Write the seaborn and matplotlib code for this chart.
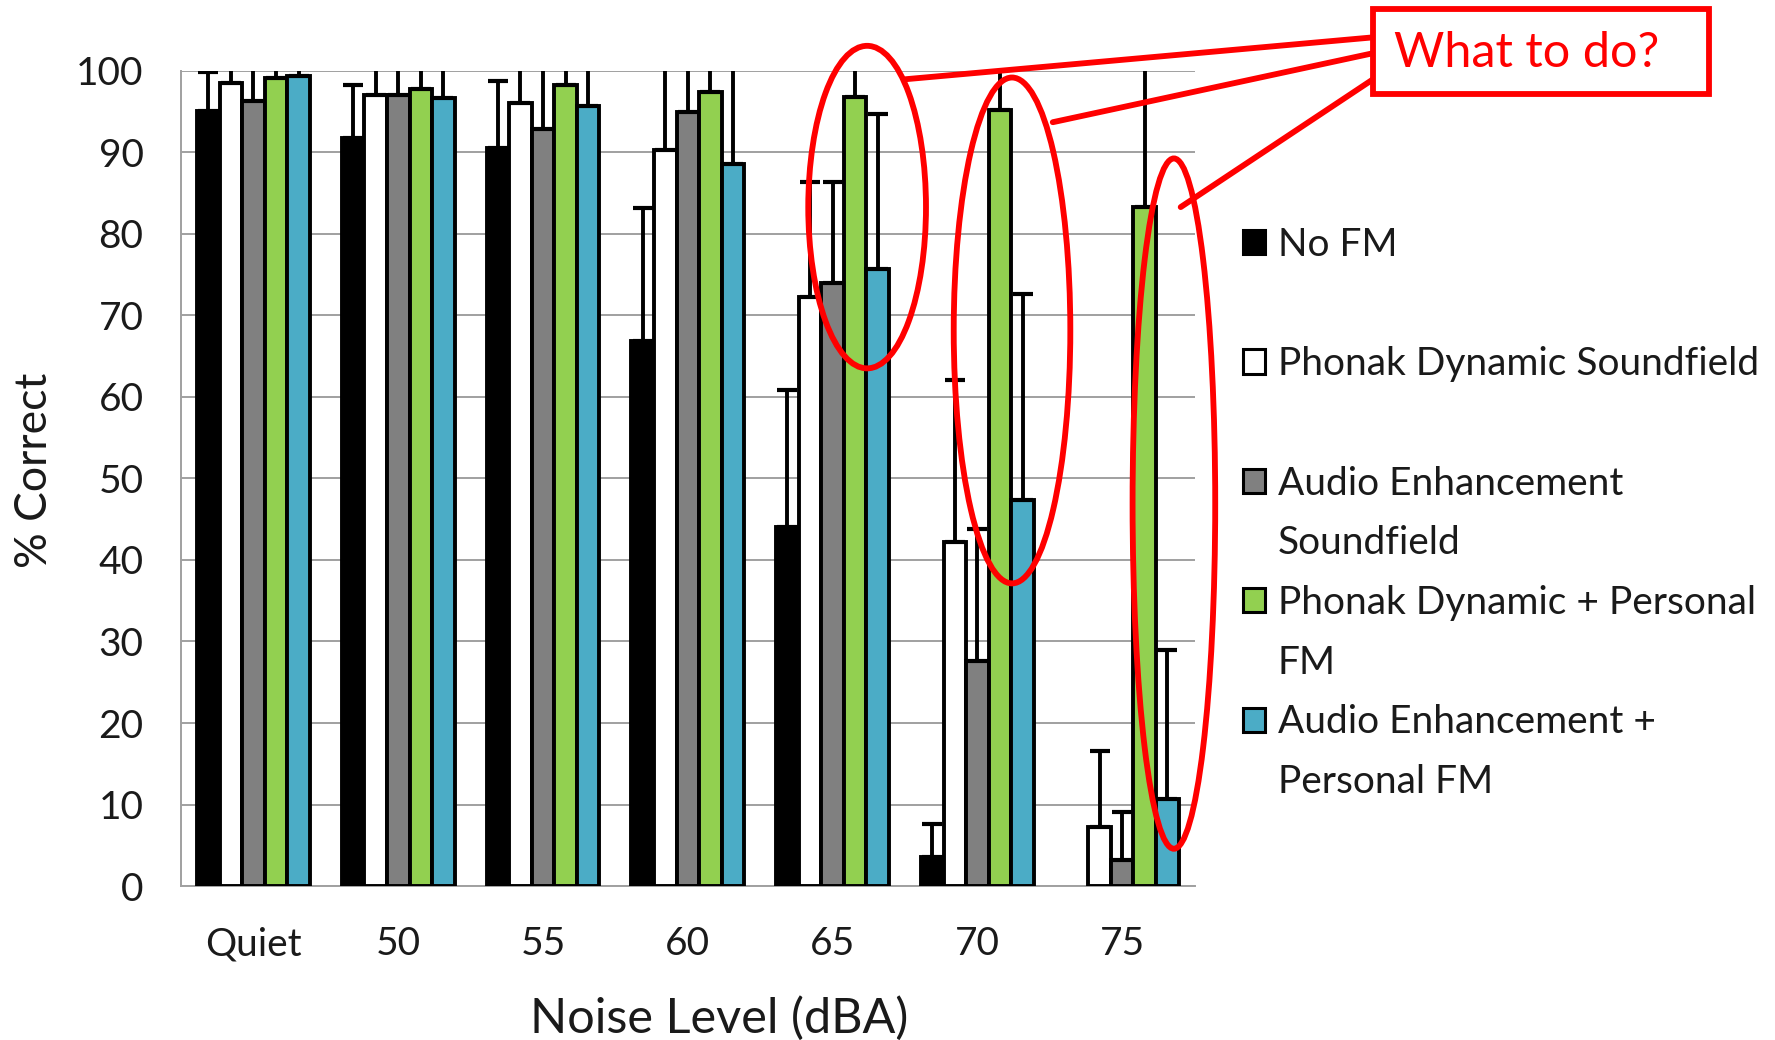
import numpy as np
import pandas as pd
import matplotlib
matplotlib.use('Agg')
import matplotlib.pyplot as plt
import seaborn as sns
from matplotlib.patches import Patch, Ellipse, Rectangle
from matplotlib.lines import Line2D

# data
levels = ['Quiet', '50', '55', '60', '65', '70', '75']
conditions = ['No FM', 'Phonak Dynamic Soundfield', 'Audio Enhancement Soundfield',
              'Phonak Dynamic + Personal FM', 'Audio Enhancement + Personal FM']
colors = ['#000000', '#ffffff', '#808080', '#92d050', '#4bacc6']

no_fm = [95.0, 91.8, 90.5, 66.9, 44.0, 3.6, 0.0]
phonak_sf = [98.5, 97.0, 96.1, 90.3, 72.3, 42.2, 7.3]
audio_sf = [96.3, 97.0, 92.9, 94.9, 74.0, 27.6, 3.2]
phonak_fm = [99.1, 97.7, 98.2, 97.4, 96.8, 95.2, 83.3]
audio_fm = [99.3, 96.6, 95.7, 88.5, 75.7, 47.3, 10.7]

# top of the +SD error bars (above 100 runs off the chart)
no_fm_top = [99.9, 98.2, 98.7, 83.2, 60.8, 7.6, np.nan]
phonak_sf_top = [102.0, 103.0, 104.0, 109.0, 86.3, 62.1, 16.6]
audio_sf_top = [102.0, 103.0, 106.0, 104.0, 86.4, 43.8, 9.1]
phonak_fm_top = [101.5, 102.0, 102.0, 103.0, 102.0, 103.0, 106.0]
audio_fm_top = [101.5, 104.0, 104.0, 110.0, 94.7, 72.6, 29.0]

legend_lines = ['No FM', ' ', 'Phonak Dynamic Soundfield', ' ', 'Audio Enhancement', 'Soundfield',
                'Phonak Dynamic + Personal', 'FM', 'Audio Enhancement +', 'Personal FM']
legend_color_idx = [0, None, 1, None, 2, None, 3, None, 4, None]

series = [no_fm, phonak_sf, audio_sf, phonak_fm, audio_fm]
tops = [no_fm_top, phonak_sf_top, audio_sf_top, phonak_fm_top, audio_fm_top]

df = pd.DataFrame({
    'level': np.tile(levels, len(conditions)),
    'condition': np.repeat(conditions, len(levels)),
    'pct': np.concatenate(series),
})

sns.set_theme(style='white')
plt.rcParams['font.family'] = ['Lato', 'DejaVu Sans']

fig = plt.figure(figsize=(17.75, 10.4), dpi=100)
ax = fig.add_axes([0.102, 0.148, 0.571, 0.784])

sns.barplot(data=df, x='level', y='pct', hue='condition', order=levels, hue_order=conditions,
            palette=colors, saturation=1, width=0.78, edgecolor='black', linewidth=2.8,
            errorbar=None, legend=False, ax=ax, zorder=3)

for cont, vals, top in zip(ax.containers, series, tops):
    xs = np.array([p.get_x() + p.get_width() / 2 for p in cont])
    for p in cont:
        if p.get_height() == 0:
            p.set_visible(False)
    vals = np.array(vals)
    top = np.array(top)
    ok = ~np.isnan(top)
    up = top[ok] - vals[ok]
    ax.errorbar(xs[ok], vals[ok], yerr=[np.zeros(ok.sum()), up], fmt='none', ecolor='black',
                elinewidth=2.8, capsize=7, capthick=3, zorder=4)

grey = '#a0a0a0'
ax.set_ylim(0, 100)
ax.set_xlim(-0.5, len(levels) - 0.5)
ax.set_yticks(range(0, 101, 10))
ax.yaxis.grid(True, color=grey, lw=1.4)
ax.set_axisbelow(True)
for s in ['top', 'right']:
    ax.spines[s].set_visible(False)
for s in ['left', 'bottom']:
    ax.spines[s].set_color(grey)
    ax.spines[s].set_linewidth(1.4)
ax.set_xticks(np.arange(-0.5, len(levels), 1), minor=True)
ax.tick_params(axis='y', length=8, width=1.4, color=grey, pad=19, labelsize=28, labelcolor='#1a1a1a')
ax.tick_params(axis='x', which='major', length=0, pad=29, labelsize=28, labelcolor='#1a1a1a')
ax.tick_params(axis='x', which='minor', length=10, width=1.4, color=grey)

ax.set_xlabel('Noise Level (dBA)', fontsize=35, color='#1a1a1a')
ax.xaxis.label.set_va('center')
ax.xaxis.set_label_coords(0.531, -0.162)
ax.set_ylabel('% Correct', fontsize=32, color='#1a1a1a')
ax.yaxis.label.set_va('center')
ax.yaxis.set_label_coords(-0.145, 0.51)

handles = []
for ci in legend_color_idx:
    if ci is None:
        handles.append(Patch(facecolor='none', edgecolor='none'))
    else:
        handles.append(Patch(facecolor=colors[ci], edgecolor='black', linewidth=2.2))
fig.legend(handles, legend_lines, loc='upper left', bbox_to_anchor=(0.70, 0.782), frameon=False,
           fontsize=28, handlelength=0.58, handleheight=0.58, handletextpad=0.33,
           labelspacing=0.61, borderpad=0, borderaxespad=0, labelcolor='#1a1a1a')


# annotation, positioned in reference pixel units (1568 x 919 view)
def fp(x, y):
    return x / 1568, 1 - y / 919


red = '#ff0000'
for cx, cy, w, h in [(766, 183, 104, 285), (894, 292, 103, 447), (1037, 445, 73, 610)]:
    fig.add_artist(Ellipse(fp(cx, cy), w / 1568, h / 919, transform=fig.transFigure,
                           fill=False, edgecolor=red, lw=4.2, zorder=10))
for (x0, y0), (x1, y1) in [((800, 70), (1213, 33)), ((930, 108), (1213, 47)), ((1043, 183), (1213, 70))]:
    a, b = fp(x0, y0)
    c, d = fp(x1, y1)
    fig.add_artist(Line2D([a, c], [b, d], transform=fig.transFigure, color=red, lw=4.2, zorder=10))
bx, by = fp(1213, 83)
fig.add_artist(Rectangle((bx, by), 297 / 1568, 75 / 919, transform=fig.transFigure,
                         facecolor='white', edgecolor=red, lw=4.2, zorder=11))
tx, ty = fp(1349, 47)
fig.text(tx, ty, 'What to do?', color=red, fontsize=35, ha='center', va='center', zorder=12)

fig.savefig('out.png', dpi=100)
